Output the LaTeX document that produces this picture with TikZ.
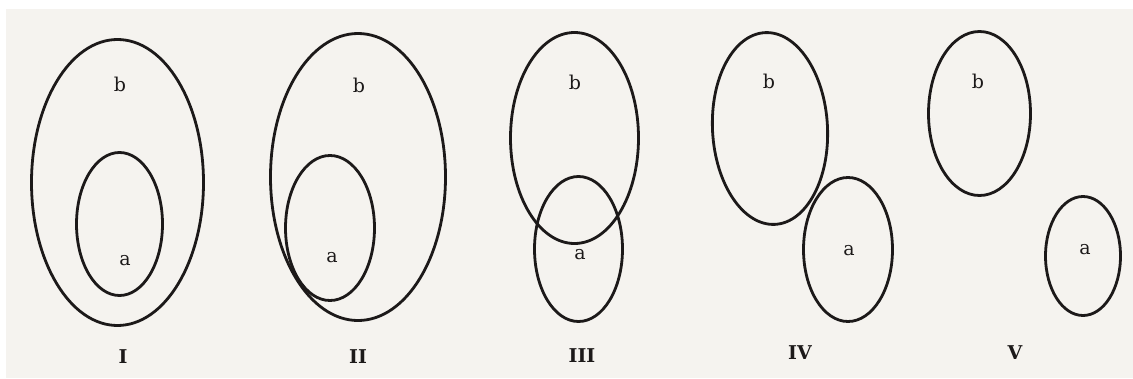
\documentclass[tikz,border=0pt]{standalone}
\usepackage{fontspec}
\setmainfont{DejaVu Serif}
\usetikzlibrary{shapes.geometric}
\definecolor{paper}{RGB}{245,243,239}
\definecolor{ink}{RGB}{28,25,25}
\begin{document}
\begin{tikzpicture}[x=1pt,y=-1pt,
  set/.style={ellipse, draw=ink, line width=2.8pt, inner sep=0pt},
  lbl/.style={font=\fontsize{19}{22}\selectfont, text=ink, inner sep=0pt},
  num/.style={font=\fontsize{19}{24}\selectfont\bfseries, text=ink, inner sep=0pt}]
\fill[white] (0,0) rectangle (1133,378);
\fill[paper] (6,9) rectangle (1133,378);
\useasboundingbox (0,0) rectangle (1133,378);
% I
\node[set, minimum width=172pt, minimum height=286pt] (Ib) at (117.5,182.5) {};
\node[set, minimum width=86pt, minimum height=143pt] (Ia) at (119.5,224) {};
\node[lbl] (Ibl) at (120,84) {b};
\node[lbl] (Ial) at (125,261) {a};
\node[num] (I) at (123,357) {I};
% II
\node[set, minimum width=175pt, minimum height=287pt] (IIb) at (358,177) {};
\node[set, minimum width=89pt, minimum height=145pt] (IIa) at (330,228) {};
\node[lbl] (IIbl) at (359,85) {b};
\node[lbl] (IIal) at (332,258) {a};
\node[num] (II) at (358,357) {II};
% III
\node[set, minimum width=128pt, minimum height=211pt] (IIIb) at (574.5,138) {};
\node[set, minimum width=88pt, minimum height=145pt] (IIIa) at (578.5,249) {};
\node[lbl] (IIIbl) at (575,82) {b};
\node[lbl] (IIIal) at (580,255) {a};
\node[num] (III) at (582,356) {III};
% IV
\node[set, minimum width=115pt, minimum height=192pt, rotate=3] (IVb) at (770,128.5) {};
\node[set, minimum width=89pt, minimum height=144pt] (IVa) at (848,249.5) {};
\node[lbl] (IVbl) at (769,81) {b};
\node[lbl] (IVal) at (849,251) {a};
\node[num] (IV) at (800,353) {IV};
% V
\node[set, minimum width=102pt, minimum height=164pt] (Vb) at (979.5,113.5) {};
\node[set, minimum width=75pt, minimum height=119pt] (Va) at (1083,256) {};
\node[lbl] (Vbl) at (978,81) {b};
\node[lbl] (Val) at (1085,250) {a};
\node[num] (V) at (1015,353) {V};
\end{tikzpicture}
\end{document}
